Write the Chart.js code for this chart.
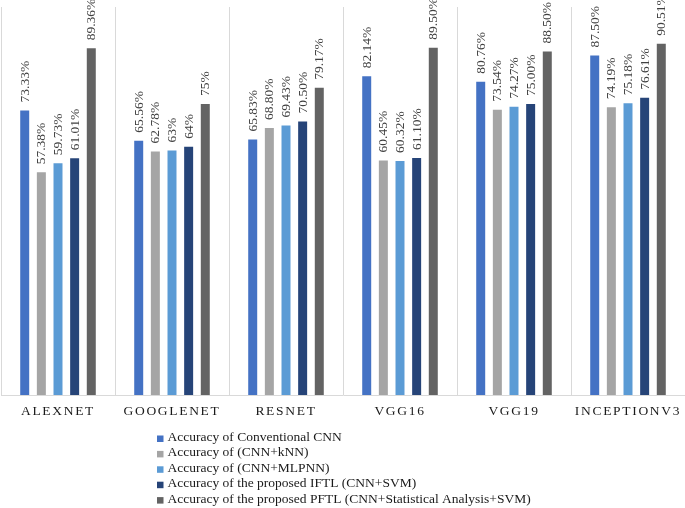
<!DOCTYPE html>
<html>
<head>
<meta charset="utf-8">
<script src="https://cdn.jsdelivr.net/npm/chart.js@4.4.1/dist/chart.umd.min.js"></script>
<style>
    html, body { margin: 0; padding: 0; background: #fff; }
    #chart { display: block; }
</style>
</head>
<body>
<canvas id="chart" width="685" height="508"></canvas>
<script>
// ===== Data (values kept as printed, so labels keep their decimals) =====
const networks = ['ALEXNET', 'GOOGLENET', 'RESNET', 'VGG16', 'VGG19', 'INCEPTIONV3'];
const conventionalCnn = ['73.33', '65.56', '65.83', '82.14', '80.76', '87.50'];
const cnnKnn = ['57.38', '62.78', '68.80', '60.45', '73.54', '74.19'];
const cnnMlpnn = ['59.73', '63', '69.43', '60.32', '74.27', '75.18'];
const proposedIftl = ['61.01', '64', '70.50', '61.10', '75.00', '76.61'];
const proposedPftl = ['89.36', '75', '79.17', '89.50', '88.50', '90.51'];

const seriesNames = [
    'Accuracy of Conventional CNN',
    'Accuracy of (CNN+kNN)',
    'Accuracy of (CNN+MLPNN)',
    'Accuracy of the proposed IFTL (CNN+SVM)',
    'Accuracy of the proposed PFTL (CNN+Statistical Analysis+SVM)'
];
const seriesColors = ['#4472C4', '#A5A5A5', '#5B9BD5', '#264478', '#636363'];

const FONT = "'Liberation Serif', 'Times New Roman', serif";

const seriesData = [conventionalCnn, cnnKnn, cnnMlpnn, proposedIftl, proposedPftl];
const datasets = seriesData.map((vals, i) => ({
    label: seriesNames[i],
    data: vals.map(Number),
    printed: vals,
    backgroundColor: seriesColors[i],
    categoryPercentage: 0.73,
    barPercentage: 0.54,
}));

// letter-spaced category labels, reset before bars are drawn
const tickSpacing = {
    id: 'tickSpacing',
    beforeDraw(chart) { chart.ctx.letterSpacing = '1.7px'; },
    beforeDatasetsDraw(chart) { chart.ctx.letterSpacing = '0px'; }
};

// rotated value labels above every bar
const valueLabels = {
    id: 'valueLabels',
    afterDatasetsDraw(chart) {
        const ctx = chart.ctx;
        ctx.save();
        ctx.letterSpacing = '0px';
        ctx.font = '13.5px ' + FONT;
        ctx.fillStyle = '#404040';
        ctx.textAlign = 'left';
        ctx.textBaseline = 'middle';
        chart.data.datasets.forEach((ds, di) => {
            chart.getDatasetMeta(di).data.forEach((bar, i) => {
                ctx.save();
                ctx.translate(bar.x + 0.5, bar.y - 8);
                ctx.rotate(-Math.PI / 2);
                ctx.fillText(ds.printed[i] + '%', 0, 0);
                ctx.restore();
            });
        });
        ctx.restore();
    }
};

// stacked legend under the axis
const stackedLegend = {
    id: 'stackedLegend',
    afterDraw(chart) {
        const ctx = chart.ctx;
        ctx.save();
        ctx.letterSpacing = '0px';
        ctx.font = '13.5px ' + FONT;
        ctx.textAlign = 'left';
        ctx.textBaseline = 'middle';
        chart.data.datasets.forEach((ds, i) => {
            const y = 437.5 + i * 15.4;
            ctx.fillStyle = ds.backgroundColor;
            ctx.fillRect(157, y - 2, 6.5, 6.5);
            ctx.fillStyle = '#1a1a1a';
            ctx.fillText(ds.label, 167.5, y);
        });
        ctx.restore();
    }
};

new Chart(document.getElementById('chart').getContext('2d'), {
    type: 'bar',
    data: { labels: networks, datasets },
    options: {
        responsive: false,
        animation: false,
        devicePixelRatio: 1,
        layout: { padding: { top: 7, left: 1, right: 0, bottom: 0 } },
        plugins: {
            legend: { display: false },
            tooltip: { enabled: false }
        },
        scales: {
            x: {
                afterFit: (scale) => { scale.height = 113; },
                grid: {
                    offset: true,
                    color: '#d9d9d9',
                    lineWidth: 1,
                    drawTicks: false
                },
                border: { color: '#d9d9d9', width: 1 },
                ticks: {
                    padding: 8,
                    color: '#1a1a1a',
                    font: { family: FONT, size: 13.5 },
                    maxRotation: 0
                }
            },
            y: {
                display: false,
                min: 0,
                max: 100
            }
        }
    },
    plugins: [tickSpacing, valueLabels, stackedLegend]
});
</script>
</body>
</html>
